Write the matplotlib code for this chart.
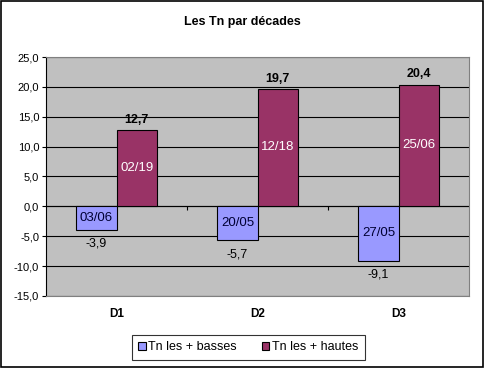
import matplotlib
matplotlib.use("Agg")
import matplotlib.pyplot as plt
import numpy as np
from matplotlib.patches import Rectangle

categories = ["D1", "D2", "D3"]
low_values = [-3.9, -5.7, -9.1]
high_values = [12.7, 19.7, 20.4]
low_dates = ["03/06", "20/05", "27/05"]
high_dates = ["02/19", "12/18", "25/06"]
yticks = [-15, -10, -5, 0, 5, 10, 15, 20, 25]

plt.rcParams['font.family'] = ['Liberation Sans', 'DejaVu Sans']

fig = plt.figure(figsize=(4.85, 3.68), dpi=100)
fig.patches.append(Rectangle((0.002, 0.003), 0.994, 0.994, transform=fig.transFigure,
                             fill=False, edgecolor='black', linewidth=1.2))
ax = fig.add_axes([0.095, 0.196, 0.872, 0.649])
ax.set_facecolor('#C0C0C0')

x = np.arange(len(categories))
w = 0.285
b1 = ax.bar(x - w/2, low_values, w, color='#9999FF', edgecolor='black', linewidth=0.8,
            label='Tn les + basses', zorder=3)
b2 = ax.bar(x + w/2, high_values, w, color='#993366', edgecolor='black', linewidth=0.8,
            label='Tn les + hautes', zorder=3)

ax.set_ylim(-15, 25)
ax.set_xlim(-0.5, 2.5)
ax.set_yticks(yticks)
ax.set_yticklabels([f"{v:.1f}".replace('.', ',') for v in yticks], fontsize=8)
ax.yaxis.grid(True, color='black', linewidth=0.8, zorder=1)
ax.set_axisbelow(True)
ax.set_xticks(x)
ax.set_xticklabels(categories, fontsize=8.5, fontweight='bold')
ax.tick_params(axis='x', length=0, pad=9)
ax.tick_params(axis='y', length=3, width=0.8, pad=2)
for s in ['top', 'right', 'bottom']:
    ax.spines[s].set_color('#808080')
ax.spines['left'].set_color('black')
ax.axhline(0, color='black', linewidth=0.8, zorder=2)
ax.vlines([0.5, 1.5], -0.6, 0, color='black', linewidth=0.8, zorder=2)

for xi, v, d in zip(x, low_values, low_dates):
    ax.text(xi - w/2, v/2, d, ha='center', va='center', fontsize=9.5, color='#000033', zorder=4)
    ax.annotate(f"{v:.1f}".replace('.', ','), (xi - w/2, v), xytext=(0, -6),
                textcoords='offset points', ha='center', va='top', fontsize=9, zorder=4)
for xi, v, d in zip(x, high_values, high_dates):
    ax.text(xi + w/2, v/2, d, ha='center', va='center', fontsize=9.5, color='white', zorder=4)
    ax.annotate(f"{v:.1f}".replace('.', ','), (xi + w/2, v), xytext=(0, 3),
                textcoords='offset points', ha='center', va='bottom', fontsize=9,
                fontweight='bold', zorder=4)

fig.text(0.5, 0.94, "Les Tn par décades", ha='center', va='center', fontsize=9, fontweight='bold')

leg = fig.legend(loc='center', bbox_to_anchor=(0.512, 0.056), ncol=2, fontsize=9,
                 frameon=True, fancybox=False, edgecolor='black', handlelength=0.6,
                 handleheight=0.6, handletextpad=0.2, columnspacing=2.0, borderpad=0.5)
leg.get_frame().set_linewidth(0.8)

fig.savefig("out.png", dpi=100)
